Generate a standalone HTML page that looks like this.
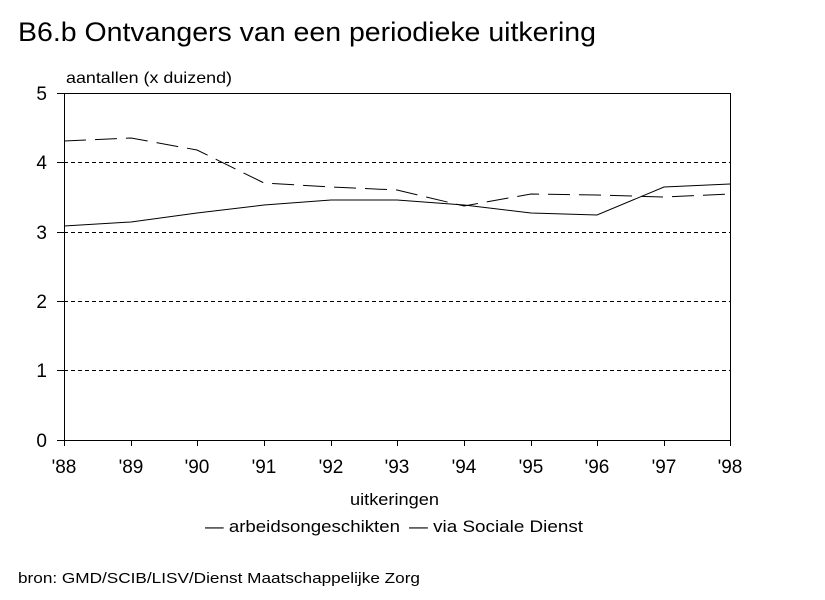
<!DOCTYPE html>
<html><head><meta charset="utf-8"><style>body{margin:0;background:#fff}svg{display:block}text{font-family:"Liberation Sans",Arial,sans-serif;fill:#000}</style></head>
<body>
<svg width="825" height="600" viewBox="0 0 825 600" xmlns="http://www.w3.org/2000/svg">
<text x="18" y="41" font-size="27" textLength="578" lengthAdjust="spacingAndGlyphs">B6.b  Ontvangers van een periodieke uitkering</text>
<text x="66" y="83" font-size="16" textLength="166" lengthAdjust="spacingAndGlyphs">aantallen (x duizend)</text>
<g stroke="#000" stroke-width="1" stroke-dasharray="4,3">
<line x1="64" y1="162.5" x2="730" y2="162.5"/><line x1="64" y1="232.5" x2="730" y2="232.5"/><line x1="64" y1="301.5" x2="730" y2="301.5"/><line x1="64" y1="370.5" x2="730" y2="370.5"/>
</g>
<g stroke="#000" stroke-width="1" fill="none">
<rect x="64.5" y="93.5" width="666" height="347"/>
<line x1="57" y1="93.5" x2="64" y2="93.5"/><line x1="57" y1="162.5" x2="64" y2="162.5"/><line x1="57" y1="232.5" x2="64" y2="232.5"/><line x1="57" y1="301.5" x2="64" y2="301.5"/><line x1="57" y1="370.5" x2="64" y2="370.5"/><line x1="57" y1="440.5" x2="64" y2="440.5"/>
<path d="M64.5 440v6M131.5 440v6M197.5 440v6M264.5 440v6M331.5 440v6M397.5 440v6M464.5 440v6M531.5 440v6M597.5 440v6M664.5 440v6M730.5 440v6"/>
<polyline points="64,226 131,222 197,213 264,205 331,200 397,200 464,205 531,213 597,215 664,187 730,184"/>
<polyline stroke-dasharray="22,9" points="64,141 131,138 197,150 264,183 331,187 397,190 464,206 531,194 597,195 664,197 730,194"/>
</g>
<g font-size="19" text-anchor="end">
<text x="47" y="100">5</text><text x="47" y="169">4</text><text x="47" y="239">3</text><text x="47" y="308">2</text><text x="47" y="377">1</text><text x="47" y="447">0</text>
</g>
<g font-size="19" text-anchor="middle">
<text x="64" y="473">'88</text><text x="131" y="473">'89</text><text x="197" y="473">'90</text><text x="264" y="473">'91</text><text x="331" y="473">'92</text><text x="397" y="473">'93</text><text x="464" y="473">'94</text><text x="531" y="473">'95</text><text x="597" y="473">'96</text><text x="664" y="473">'97</text><text x="730" y="473">'98</text>
</g>
<text x="350" y="505" font-size="17" textLength="89" lengthAdjust="spacingAndGlyphs">uitkeringen</text>
<text x="205" y="532" font-size="17" textLength="195" lengthAdjust="spacingAndGlyphs">— arbeidsongeschikten</text>
<text x="409" y="532" font-size="17" textLength="174" lengthAdjust="spacingAndGlyphs">— via Sociale Dienst</text>
<text x="18" y="583" font-size="15" textLength="402" lengthAdjust="spacingAndGlyphs">bron: GMD/SCIB/LISV/Dienst Maatschappelijke Zorg</text>
</svg>
</body></html>
